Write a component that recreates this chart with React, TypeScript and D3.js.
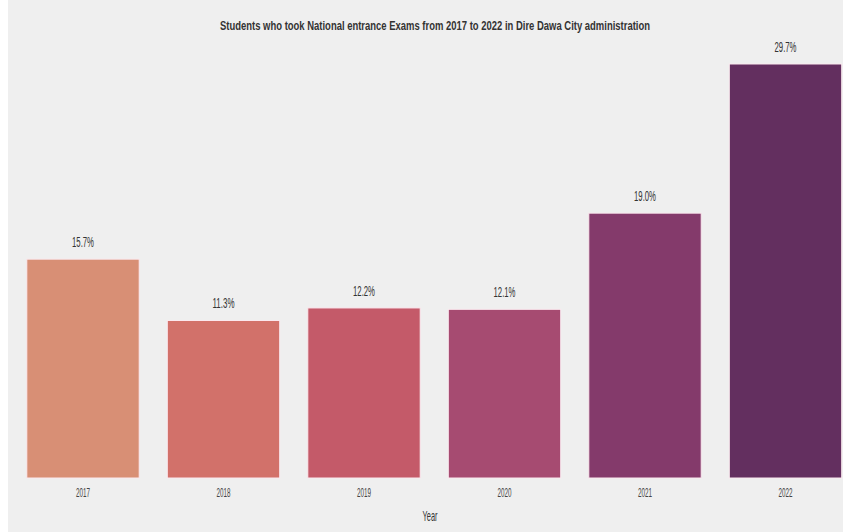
import React from "react";
import * as d3 from "d3";

const years = ["2017", "2018", "2019", "2020", "2021", "2022"];
const values = [15.7, 11.3, 12.2, 12.1, 19.0, 29.7];
const colors = ["#d88f75", "#d2716a", "#c45a69", "#a64b71", "#843a6b", "#632f5f"];
const title = "Students who took National entrance Exams from 2017 to 2022 in Dire Dawa City administration";
const xLabel = "Year";

const W = 847;
const H = 532;

export default function App() {
  const x = d3.scaleBand<string>().domain(years).range([12.75, 855.75]).paddingInner(0.2).paddingOuter(0.1);
  const y = d3.scaleLinear().domain([0, 29.7]).range([478, 64]);
  const fontFam = "'Liberation Sans', Arial, sans-serif";
  return (
    <svg
      width={W}
      height={H}
      style={{ position: "absolute", left: 0, top: 0 }}
      fontFamily={fontFam}
    >
      <rect x={8} y={0} width={835} height={H} fill="#efefef" />
      <text x={435} y={30} textAnchor="middle" fontSize={13} fontWeight="bold" fill="#333" textLength={430} lengthAdjust="spacingAndGlyphs">
        {title}
      </text>
      {years.map((yr, i) => {
        const bx = x(yr)!;
        const bw = x.bandwidth();
        const top = y(values[i]);
        const cx = bx + bw / 2;
        const label = values[i].toFixed(1) + "%";
        return (
          <g key={yr}>
            <rect x={bx} y={top} width={bw} height={y(0) - top} fill={colors[i]} stroke="#fbe9ef" strokeWidth={1} />
            <text x={cx} y={top - 12} textAnchor="middle" fontSize={14} fill="#333" textLength={22} lengthAdjust="spacingAndGlyphs">
              {label}
            </text>
            <text x={cx} y={497} textAnchor="middle" fontSize={12} fill="#444" textLength={14} lengthAdjust="spacingAndGlyphs">
              {yr}
            </text>
          </g>
        );
      })}
      <text x={430} y={521} textAnchor="middle" fontSize={15} fill="#333" textLength={15} lengthAdjust="spacingAndGlyphs">
        {xLabel}
      </text>
    </svg>
  );
}
